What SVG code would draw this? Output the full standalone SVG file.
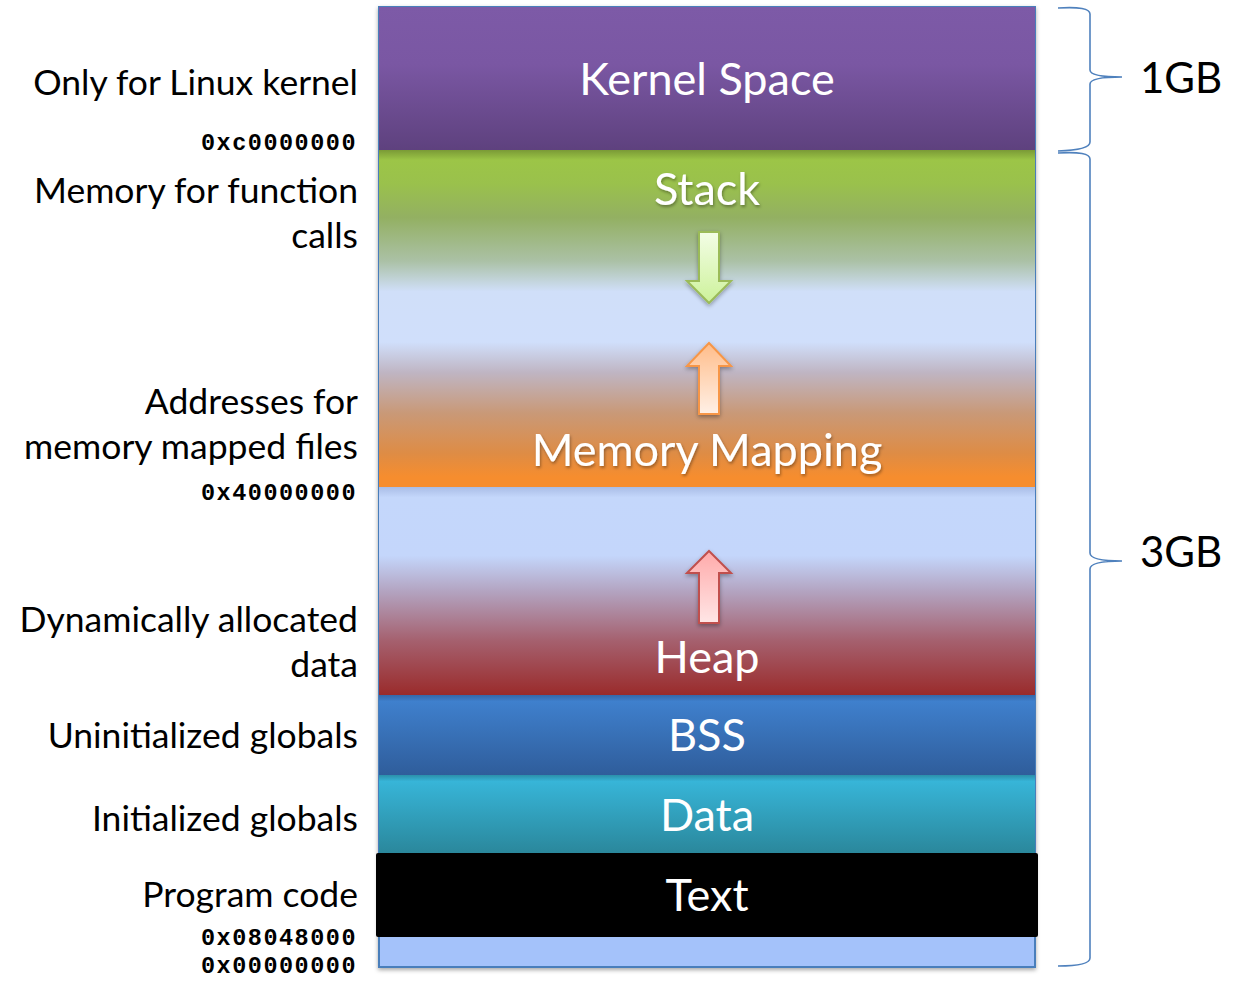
<svg xmlns="http://www.w3.org/2000/svg" width="1234" height="981" viewBox="0 0 1234 981">
<defs>
<linearGradient id="gK" x1="0" y1="0" x2="0" y2="1"><stop offset="0" stop-color="#7d5aa7"/><stop offset="0.4" stop-color="#7a57a3"/><stop offset="1" stop-color="#5e417e"/></linearGradient>
<linearGradient id="gS" x1="0" y1="0" x2="0" y2="1">
<stop offset="0" stop-color="#7a9a36"/><stop offset="0.03" stop-color="#9cc547"/><stop offset="0.1" stop-color="#9ac14c"/><stop offset="0.2" stop-color="#93b062"/><stop offset="0.33" stop-color="#abc1a6"/><stop offset="0.42" stop-color="#d0dff9"/><stop offset="0.57" stop-color="#d0dffb"/><stop offset="0.66" stop-color="#bfb5c3"/><stop offset="0.78" stop-color="#c99978"/><stop offset="0.9" stop-color="#de8c45"/><stop offset="0.97" stop-color="#f68d2e"/><stop offset="1" stop-color="#f68d2e"/>
</linearGradient>
<linearGradient id="gH" x1="0" y1="0" x2="0" y2="1">
<stop offset="0" stop-color="#a9bde6"/><stop offset="0.05" stop-color="#c4d7fb"/><stop offset="0.33" stop-color="#c4d6fb"/><stop offset="0.5" stop-color="#b3a4c1"/><stop offset="0.74" stop-color="#a5606e"/><stop offset="1" stop-color="#9a2b2b"/>
</linearGradient>
<linearGradient id="gB" x1="0" y1="0" x2="0" y2="1"><stop offset="0" stop-color="#3567a8"/><stop offset="0.08" stop-color="#3f80cd"/><stop offset="1" stop-color="#2f5d9b"/></linearGradient>
<linearGradient id="gD" x1="0" y1="0" x2="0" y2="1"><stop offset="0" stop-color="#2b8faa"/><stop offset="0.08" stop-color="#37b5d8"/><stop offset="1" stop-color="#2a869a"/></linearGradient>
<linearGradient id="aG" x1="0" y1="0" x2="0" y2="1"><stop offset="0" stop-color="#f3fde6"/><stop offset="1" stop-color="#cdf29a"/></linearGradient>
<linearGradient id="aO" x1="0" y1="0" x2="0" y2="1"><stop offset="0" stop-color="#ffbd8a"/><stop offset="1" stop-color="#fff0e6"/></linearGradient>
<linearGradient id="aR" x1="0" y1="0" x2="0" y2="1"><stop offset="0" stop-color="#ffaaaa"/><stop offset="1" stop-color="#ffe6e6"/></linearGradient>
<filter id="sh" x="-10%" y="-10%" width="120%" height="130%"><feDropShadow dx="0" dy="2" stdDeviation="2" flood-color="#000" flood-opacity="0.35"/></filter>
<filter id="ts" x="-10%" y="-20%" width="120%" height="150%"><feDropShadow dx="1" dy="2" stdDeviation="1.5" flood-color="#000" flood-opacity="0.35"/></filter>
</defs>
<style>
.seg{font-family:Lato,"Open Sans",sans-serif;font-size:45px;fill:#fff;text-anchor:middle}
.lab{font-family:Lato,"Open Sans",sans-serif;font-size:35.5px;fill:#000;text-anchor:end}
.addr{font-family:"Liberation Mono","DejaVu Sans Mono",monospace;font-weight:bold;font-size:23.5px;letter-spacing:1.5px;fill:#000;text-anchor:end}
.gb{font-family:Lato,"Open Sans",sans-serif;font-size:42px;fill:#000}
.br{fill:none;stroke:#4f81bd;stroke-width:1.6}
</style>
<g id="memory-box">
<rect x="379" y="7" width="656" height="960" fill="#a4c2fa" stroke="#4a7ebb" stroke-width="2" filter="url(#sh)"/>
</g>
<g id="kernel-space">
<rect x="379" y="7" width="656" height="143" fill="url(#gK)"/>
<text class="seg" x="707" y="95">Kernel Space</text>
</g>
<g id="stack-mmap">
<rect x="379" y="150" width="656" height="337" fill="url(#gS)"/>
<text class="seg" x="707" y="205" filter="url(#ts)">Stack</text>
<text class="seg" x="707" y="466" filter="url(#ts)">Memory Mapping</text>
</g>
<g id="heap">
<rect x="379" y="487" width="656" height="208" fill="url(#gH)"/>
<text class="seg" x="707" y="673">Heap</text>
</g>
<g id="bss">
<rect x="379" y="695" width="656" height="80" fill="url(#gB)"/>
<text class="seg" x="707" y="751">BSS</text>
</g>
<g id="data">
<rect x="379" y="775" width="656" height="80" fill="url(#gD)"/>
<text class="seg" x="707" y="831">Data</text>
</g>
<g id="text-seg">
<rect x="376" y="853" width="662" height="84" rx="2" fill="#000"/>
<text class="seg" x="707" y="911">Text</text>
</g>
<g id="connectors">
<path d="M699,232 H719 V281 H731 L709,303 L687,281 H699 Z" fill="url(#aG)" stroke="#9bbb59" stroke-width="2" filter="url(#sh)"/>
<path d="M709,343 L731,366 H719 V414 H699 V366 H687 Z" fill="url(#aO)" stroke="#f79646" stroke-width="2" filter="url(#sh)"/>
<path d="M709,551 L731,573 H719 V623 H699 V573 H687 Z" fill="url(#aR)" stroke="#c0504d" stroke-width="2" filter="url(#sh)"/>
<path class="br" d="M1058,8 Q1090,6 1090,14 V70 Q1090,77 1122,77 Q1090,77 1090,84 V142 Q1090,150 1058,151"/>
<path class="br" d="M1058,153 Q1090,151 1090,159 V553 Q1090,561 1122,561 Q1090,561 1090,569 V958 Q1090,966 1058,966"/>
</g>
<g id="labels">
<text class="lab" x="358" y="95">Only for Linux kernel</text>
<text class="addr" x="357" y="150">0xc0000000</text>
<text class="lab" x="358" y="203">Memory for function</text>
<text class="lab" x="358" y="248">calls</text>
<text class="lab" x="358" y="414">Addresses for</text>
<text class="lab" x="358" y="459">memory mapped files</text>
<text class="addr" x="357" y="500">0x40000000</text>
<text class="lab" x="358" y="632">Dynamically allocated</text>
<text class="lab" x="358" y="677">data</text>
<text class="lab" x="358" y="748">Uninitialized globals</text>
<text class="lab" x="358" y="831">Initialized globals</text>
<text class="lab" x="358" y="907">Program code</text>
<text class="addr" x="357" y="945">0x08048000</text>
<text class="addr" x="357" y="973">0x00000000</text>
<text class="gb" x="1140" y="93">1GB</text>
<text class="gb" x="1140" y="567">3GB</text>
</g>
</svg>
